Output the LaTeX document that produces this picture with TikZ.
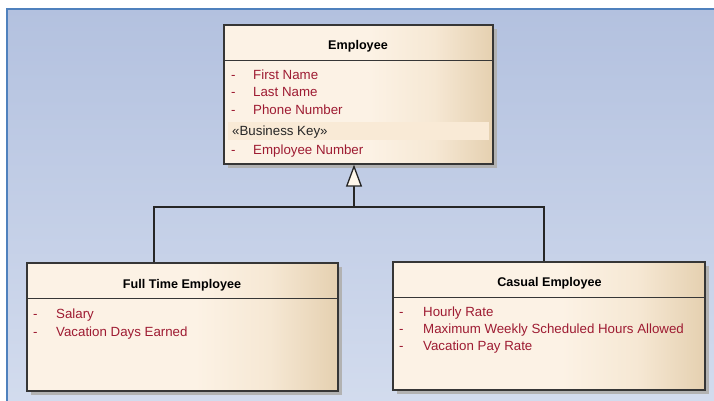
\documentclass[tikz,border=0pt]{standalone}
\usepackage{fontspec}
\setmainfont{Liberation Sans}
\usetikzlibrary{arrows.meta,shadows}

\definecolor{bgtop}{HTML}{B3C1DF}
\definecolor{bgbot}{HTML}{D3DCEE}
\definecolor{frameblue}{HTML}{4F81BD}
\definecolor{boxlight}{HTML}{FCF2E5}
\definecolor{boxmid}{HTML}{F6E8D4}
\definecolor{boxdark}{HTML}{E5D0B0}
\definecolor{boxedge}{HTML}{363636}
\definecolor{attrred}{HTML}{9E1B32}
\definecolor{keyband}{HTML}{F9EAD6}
\definecolor{tipfill}{HTML}{FFF8EC}

% cream-to-tan fill of the class boxes (path spans 25bp..75bp)
\pgfdeclarehorizontalshading{classfill}{100bp}{color(0bp)=(boxlight); color(25bp)=(boxlight); color(52bp)=(boxlight); color(64bp)=(boxmid); color(75bp)=(boxdark); color(100bp)=(boxdark)}

\tikzset{
  classbox/.style={draw=boxedge, line width=1.3pt, shading=classfill, inner sep=0pt,
    general shadow={fill=black!30, shadow xshift=4pt, shadow yshift=-4pt}},
  sepline/.style={draw=boxedge, line width=1.3pt},
  classtitle/.style={anchor=base, inner sep=0pt, font=\fontsize{12.6}{15}\selectfont\bfseries, text=black},
  attr/.style={anchor=base west, inner sep=0pt, font=\fontsize{13.3}{16}\selectfont, text=attrred},
  stereo/.style={anchor=base west, inner sep=0pt, font=\fontsize{13.3}{16}\selectfont, text=black!85},
  conn/.style={draw=black!85, line width=1.3pt},
  genarrow/.style={conn, -{Triangle[length=22pt, width=16pt, fill=tipfill, line width=1.3pt]}}
}

\begin{document}
\begin{tikzpicture}[x=1pt, y=-1pt]
  \useasboundingbox (0,0) rectangle (714,400);
  \fill[white] (0,0) rectangle (714,400);
  % diagram canvas, running past the right and bottom edges
  \shade[top color=bgtop, bottom color=bgbot] (6,8) rectangle (724,410);
  \draw[frameblue, line width=2.2pt] (7,410) -- (7,9) -- (724,9);

  % class boxes
  \node[classbox, minimum width=269pt, minimum height=139pt] (emp) at (358.5,94.5) {};
  \node[classbox, minimum width=311pt, minimum height=128pt] (fte) at (182.5,327) {};
  \node[classbox, minimum width=312pt, minimum height=128pt] (ce) at (549,326) {};

  % compartment separators
  \draw[sepline] (224,60.5) -- (493,60.5);
  \draw[sepline] (27,298.5) -- (338,298.5);
  \draw[sepline] (393,297.5) -- (705,297.5);

  % Employee
  \node[classtitle] (empT) at (358,49) {Employee};
  \node[attr] (empD1) at (231,79.3) {-};
  \node[attr] (empA1) at (253,79.3) {First Name};
  \node[attr] (empD2) at (231,96.7) {-};
  \node[attr] (empA2) at (253,96.7) {Last Name};
  \node[attr] (empD3) at (231,114) {-};
  \node[attr] (empA3) at (253,114) {Phone Number};
  \fill[keyband] (228,122) rectangle (489,140);
  \node[stereo] (empK) at (232,135.7) {«Business Key»};
  \node[attr] (empD4) at (231,154.3) {-};
  \node[attr] (empA4) at (253,154.3) {Employee Number};

  % Full Time Employee
  \node[classtitle] (fteT) at (182,288.3) {Full Time Employee};
  \node[attr] (fteD1) at (33,318.3) {-};
  \node[attr] (fteA1) at (56,318.3) {Salary};
  \node[attr] (fteD2) at (33,336) {-};
  \node[attr] (fteA2) at (56,336) {Vacation Days Earned};

  % Casual Employee
  \node[classtitle] (ceT) at (549.5,286) {Casual Employee};
  \node[attr] (ceD1) at (399,316) {-};
  \node[attr] (ceA1) at (423,316) {Hourly Rate};
  \node[attr] (ceD2) at (399,333.3) {-};
  \node[attr] (ceA2) at (423,333.3) {Maximum Weekly Scheduled Hours Allowed};
  \node[attr] (ceD3) at (399,350) {-};
  \node[attr] (ceA3) at (423,350) {Vacation Pay Rate};

  % generalization
  \coordinate (jL) at (154,207);
  \coordinate (jM) at (354,207);
  \coordinate (jR) at (544,207);
  \draw[conn] (fte.north -| jL) -- (jL) -- (jR) -- (ce.north -| jR);
  \draw[genarrow] (jM) -- (emp.south -| jM);
\end{tikzpicture}
\end{document}
